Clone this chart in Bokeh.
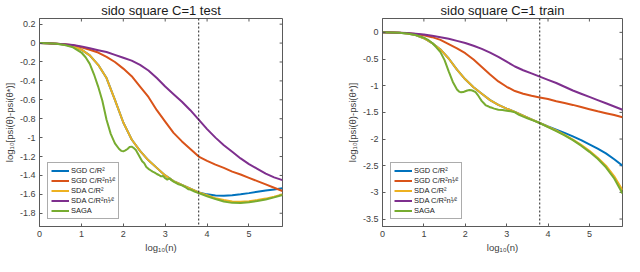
from bokeh.plotting import figure
from bokeh.models import Range1d, FixedTicker, Legend, LegendItem, Span
from bokeh.layouts import row
from bokeh.embed import file_html
from bokeh.resources import INLINE

# ---------------- data ----------------
x_grid = [0.0, 0.2, 0.4, 0.6, 0.8, 1.0, 1.2, 1.4, 1.6, 1.8,
          2.0, 2.2, 2.4, 2.6, 2.8, 3.0, 3.2, 3.4, 3.6, 3.8,
          4.0, 4.2, 4.4, 4.6, 4.8, 5.0, 5.2, 5.4, 5.6, 5.8]

series_names = ["SGD C/R²", "SGD C/R²n¹⁄²", "SDA C/R²", "SDA C/R²n¹⁄²", "SAGA"]

test_sgd = [0, -0.002, -0.006, -0.014, -0.035, -0.07, -0.13, -0.23, -0.37, -0.6,
            -0.84, -1.02, -1.14, -1.24, -1.32, -1.4, -1.46, -1.5, -1.54, -1.58,
            -1.6, -1.612, -1.615, -1.61, -1.6, -1.587, -1.573, -1.56, -1.548, -1.535]
test_sgd_sqrt = [0, -0.002, -0.006, -0.012, -0.022, -0.045, -0.07, -0.1, -0.145, -0.2,
                 -0.27, -0.35, -0.46, -0.57, -0.71, -0.83, -0.95, -1.04, -1.12, -1.2,
                 -1.245, -1.285, -1.32, -1.36, -1.39, -1.425, -1.46, -1.495, -1.53, -1.565]
test_sda = [0, -0.002, -0.006, -0.014, -0.035, -0.07, -0.13, -0.23, -0.37, -0.6,
            -0.84, -1.02, -1.14, -1.24, -1.32, -1.4, -1.46, -1.5, -1.54, -1.58,
            -1.61, -1.64, -1.66, -1.675, -1.678, -1.672, -1.66, -1.645, -1.625, -1.6]
test_sda_sqrt = [0, -0.002, -0.006, -0.012, -0.02, -0.035, -0.055, -0.075, -0.095, -0.125,
                 -0.155, -0.185, -0.23, -0.29, -0.37, -0.46, -0.54, -0.62, -0.71, -0.81,
                 -0.91, -1.0, -1.08, -1.15, -1.22, -1.28, -1.33, -1.38, -1.42, -1.45]
test_saga_x = [0, 0.2, 0.4, 0.6, 0.8, 1.0, 1.1, 1.2, 1.3, 1.4, 1.5, 1.6, 1.7, 1.8, 1.9,
               1.95, 2.0, 2.05, 2.1, 2.15, 2.2, 2.25, 2.3, 2.35, 2.4, 2.45, 2.5, 2.55, 2.6,
               2.65, 2.7, 2.75, 2.8, 2.85, 2.9, 2.95, 3.0, 3.05, 3.1, 3.15, 3.2, 3.3, 3.4,
               3.5, 3.55, 3.6, 3.7, 3.8, 4.0, 4.2, 4.4, 4.6, 4.8, 5.0, 5.2, 5.4, 5.6, 5.8]
test_saga = [0, -0.002, -0.008, -0.02, -0.045, -0.1, -0.15, -0.22, -0.33, -0.46,
             -0.61, -0.81, -0.96, -1.06, -1.12, -1.14, -1.145, -1.135, -1.12, -1.1,
             -1.095, -1.11, -1.13, -1.17, -1.21, -1.25, -1.27, -1.31, -1.33, -1.345,
             -1.36, -1.37, -1.385, -1.395, -1.41, -1.405, -1.43, -1.445, -1.43, -1.45,
             -1.465, -1.49, -1.505, -1.53, -1.545, -1.55, -1.57, -1.587, -1.62, -1.65,
             -1.675, -1.69, -1.692, -1.684, -1.67, -1.655, -1.632, -1.607]

train_sgd = [0, -0.002, -0.008, -0.02, -0.05, -0.11, -0.2, -0.32, -0.49, -0.7,
             -0.88, -1.03, -1.15, -1.27, -1.36, -1.43, -1.49, -1.56, -1.63, -1.7,
             -1.765, -1.825, -1.885, -1.95, -2.02, -2.1, -2.18, -2.27, -2.38, -2.5]
train_sgd_sqrt = [0, -0.002, -0.006, -0.015, -0.03, -0.055, -0.09, -0.14, -0.22, -0.3,
                  -0.39, -0.51, -0.65, -0.79, -0.92, -1.02, -1.1, -1.15, -1.19, -1.22,
                  -1.25, -1.29, -1.325, -1.36, -1.4, -1.44, -1.48, -1.515, -1.55, -1.59]
train_sda = [0, -0.002, -0.008, -0.02, -0.05, -0.11, -0.2, -0.32, -0.49, -0.7,
             -0.88, -1.03, -1.15, -1.27, -1.36, -1.43, -1.49, -1.56, -1.63, -1.7,
             -1.77, -1.84, -1.92, -2.01, -2.11, -2.22, -2.35, -2.5, -2.7, -2.96]
train_sda_sqrt = [0, -0.002, -0.006, -0.014, -0.025, -0.04, -0.065, -0.09, -0.12, -0.16,
                  -0.2, -0.25, -0.31, -0.38, -0.46, -0.55, -0.64, -0.71, -0.77, -0.83,
                  -0.89, -0.95, -1.02, -1.09, -1.15, -1.21, -1.27, -1.33, -1.39, -1.45]
train_saga_x = [0, 0.2, 0.4, 0.6, 0.8, 1.0, 1.1, 1.2, 1.3, 1.4, 1.5, 1.6, 1.7, 1.8, 1.85,
                1.9, 1.95, 2.0, 2.05, 2.1, 2.15, 2.2, 2.25, 2.3, 2.35, 2.4, 2.45, 2.5, 2.55,
                2.6, 2.65, 2.7, 2.8, 2.9, 3.0, 3.1, 3.2, 3.3, 3.4, 3.5, 3.6, 3.7, 3.8,
                4.0, 4.2, 4.4, 4.6, 4.8, 5.0, 5.2, 5.4, 5.6, 5.8]
train_saga = [0, -0.002, -0.008, -0.02, -0.05, -0.1, -0.14, -0.2, -0.28, -0.37,
              -0.52, -0.73, -0.93, -1.07, -1.11, -1.125, -1.12, -1.105, -1.09, -1.08,
              -1.085, -1.1, -1.12, -1.17, -1.23, -1.29, -1.33, -1.37, -1.385, -1.405,
              -1.415, -1.43, -1.45, -1.455, -1.47, -1.48, -1.5, -1.545, -1.58, -1.61,
              -1.64, -1.67, -1.70, -1.775, -1.85, -1.93, -2.02, -2.125, -2.24, -2.37,
              -2.53, -2.74, -3.02]

x_ticks = [0, 1, 2, 3, 4, 5]
test_y_ticks = [-1.8, -1.6, -1.4, -1.2, -1.0, -0.8, -0.6, -0.4, -0.2, 0.0, 0.2]
test_y_labels = ["-1.8", "-1.6", "-1.4", "-1.2", "-1", "-0.8", "-0.6", "-0.4", "-0.2", "0", "0.2"]
train_y_ticks = [-3.5, -3.0, -2.5, -2.0, -1.5, -1.0, -0.5, 0.0]
train_y_labels = ["-3.5", "-3", "-2.5", "-2", "-1.5", "-1", "-0.5", "0"]
marker_x = 3.8
x_lim = (0, 5.8)
test_y_lim = (-1.94, 0.26)
train_y_lim = (-3.64, 0.26)

colors = ["#0072BD", "#D95319", "#EDB120", "#7E2F8E", "#77AC30"]
FONT = "Liberation Sans"
TXT = "#404040"
AX = "#5a5a5a"
FIG_H = 256
BORDER_TOP = 2
BORDER_BOTTOM = 30
TICK_PX = 3


def make_fig(title, ylim, yticks, ylabels, series, width, bl, br, legend_loc):
    p = figure(width=width, height=FIG_H, x_range=Range1d(*x_lim), y_range=Range1d(*ylim),
               output_backend="svg", toolbar_location=None,
               min_border_left=bl, min_border_right=br,
               min_border_top=BORDER_TOP, min_border_bottom=BORDER_BOTTOM)
    p.title.text = title
    p.title.align = "center"
    p.title.text_font = FONT
    p.title.text_font_size = "13px"
    p.title.text_font_style = "normal"
    p.title.text_color = "#1a1a1a"
    p.title.standoff = 1
    p.grid.visible = False
    p.outline_line_color = AX
    p.outline_line_width = 1
    p.background_fill_color = "white"
    p.border_fill_color = "white"

    xa = p.xaxis[0]
    ya = p.yaxis[0]
    xa.ticker = FixedTicker(ticks=x_ticks)
    ya.ticker = FixedTicker(ticks=yticks)
    ya.major_label_overrides = {t: l for t, l in zip(yticks, ylabels)}
    xa.axis_label = "log₁₀(n)"
    ya.axis_label = "log₁₀[psi(θ)-psi(θ*)]"
    for a in (xa, ya):
        a.major_tick_in = TICK_PX
        a.major_tick_out = 0
        a.minor_tick_line_color = None
        a.axis_line_color = AX
        a.major_tick_line_color = AX
        a.major_label_text_font = FONT
        a.major_label_text_font_size = "9px"
        a.major_label_text_color = TXT
        a.axis_label_text_font = FONT
        a.axis_label_text_font_size = "9.5px"
        a.axis_label_text_font_style = "normal"
        a.axis_label_text_color = TXT
        a.major_label_standoff = 4
        a.axis_label_standoff = 2

    # inward ticks on the top and right frame edges (MATLAB box style)
    frame_w = width - bl - br
    frame_h = FIG_H - BORDER_TOP - BORDER_BOTTOM - 18
    dy = TICK_PX * (ylim[1] - ylim[0]) / frame_h
    dx = TICK_PX * (x_lim[1] - x_lim[0]) / frame_w
    p.segment(x0=x_ticks, y0=[ylim[1]] * len(x_ticks), x1=x_ticks,
              y1=[ylim[1] - dy] * len(x_ticks), line_color=AX, line_width=1)
    p.segment(x0=[x_lim[1]] * len(yticks), y0=yticks, x1=[x_lim[1] - dx] * len(yticks),
              y1=yticks, line_color=AX, line_width=1)

    items = []
    for name, (xs, ys), c in zip(series_names, series, colors):
        r = p.line(xs, ys, line_color=c, line_width=2)
        items.append(LegendItem(label=name, renderers=[r]))

    p.add_layout(Span(location=marker_x, dimension="height", line_color="#222222",
                      line_width=1, line_dash="2 2"))

    leg = Legend(items=items, location=legend_loc)
    leg.label_text_font = FONT
    leg.label_text_font_size = "7.5px"
    leg.label_text_color = "#1a1a1a"
    leg.glyph_width = 18
    leg.glyph_height = 9
    leg.label_height = 9
    leg.label_standoff = 2
    leg.spacing = 1
    leg.padding = 3
    leg.margin = 0
    leg.border_line_color = AX
    leg.border_line_width = 1
    leg.background_fill_alpha = 1
    p.add_layout(leg)
    return p


p1 = make_fig("sido square C=1 test", test_y_lim, test_y_ticks, test_y_labels,
              [(x_grid, test_sgd), (x_grid, test_sgd_sqrt), (x_grid, test_sda),
               (x_grid, test_sda_sqrt), (test_saga_x, test_saga)],
              318, 29, 36, (8, 7))
p2 = make_fig("sido square C=1 train", train_y_lim, train_y_ticks, train_y_labels,
              [(x_grid, train_sgd), (x_grid, train_sgd_sqrt), (x_grid, train_sda),
               (x_grid, train_sda_sqrt), (train_saga_x, train_saga)],
              306, 64, 2, (8, 7))

layout = row(p1, p2)
open("out.html", "w").write(file_html(layout, INLINE))
